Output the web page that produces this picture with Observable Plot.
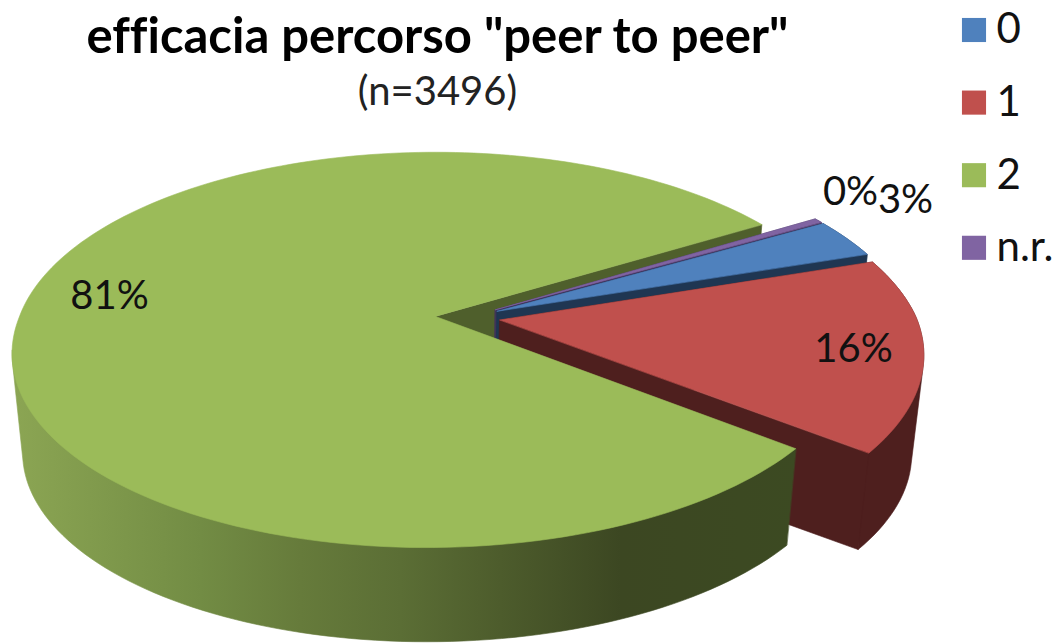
<!DOCTYPE html>
<html>
<head>
<meta charset="utf-8">
<script src="https://cdn.jsdelivr.net/npm/d3@7"></script>
<script src="https://cdn.jsdelivr.net/npm/@observablehq/plot@0.6"></script>
<style>html,body{margin:0;padding:0;background:#fff}svg{display:block}svg text{font-variant-ligatures:none}</style>
</head>
<body>
<div id="chart"></div>
<script>
// Data
const categories = ["0", "1", "2", "n.r."];
const shares = [3.2, 15.7, 80.7, 0.4]; // percent of n=3496
const chartTitle = 'efficacia percorso "peer to peer"';
const chartSubtitle = "(n=3496)";

// Styles and layout (kept apart from the data)
const topColors = ["#4f81bd", "#c0504d", "#9bbb59", "#8064a2"];
const wallColors = ["#1f3652", "#4e1f1e", "#4f5f2c", "#40325a"];
const labelAnchors = [[905, 200], [853, 349], [109, 296], [850, 192]];
const W = 1058, H = 643;
const FONT = "Lato, 'Open Sans', sans-serif";

// 3-D pie camera model
const apex = [435, 316], R = 416, RT = 192, k = 0.169, lean = 0.04;
const wallDrop = 100, wallScale = 0.975, explode = 0.078;
const startDeg = -29.96;

const rad = d => d * Math.PI / 180;
let acc = startDeg;
const slices = shares.map((s, i) => {
  const a0 = acc, a1 = acc + s / 100 * 360;
  acc = a1;
  return {i, a0, a1, mid: (a0 + a1) / 2};
});
// The plane's origin sits on the tip of the biggest slice; every slice is
// pushed out along its own bisector from the true pie centre.
const big = slices[d3.maxIndex(shares)];
const centre = [-explode * Math.cos(rad(big.mid)), -explode * Math.sin(rad(big.mid))];
slices.forEach(s => {
  s.o = [centre[0] + explode * Math.cos(rad(s.mid)), centre[1] + explode * Math.sin(rad(s.mid))];
});

function project(u, v, floor) {
  const d = 1 - k * v;
  const Y = RT * v / d;
  const X = R * u / d - lean * Math.max(0, Y);
  return floor
    ? {x: apex[0] + wallScale * X, y: apex[1] + wallDrop + wallScale * Y}
    : {x: apex[0] + X, y: apex[1] + Y};
}
const rimPoint = (s, deg, floor) =>
  project(s.o[0] + Math.cos(rad(deg)), s.o[1] + Math.sin(rad(deg)), floor);
const tip = (s, floor) => project(s.o[0], s.o[1], floor);
function rim(s, floor, a0 = s.a0, a1 = s.a1) {
  const n = Math.max(4, Math.ceil((a1 - a0) / 1.5));
  return d3.range(n + 1).map(j => rimPoint(s, a0 + (a1 - a0) * j / n, floor));
}
const poly = (pts, fill) =>
  Plot.line(pts, {x: "x", y: "y", fill, stroke: fill, strokeWidth: 0.6, curve: "linear-closed"});

const topFace = s => poly([tip(s, false), ...rim(s, false)], topColors[s.i]);
// A rim wall is the convex outline of its upper and lower arcs, so the sides
// of the drum run straight between the two ellipses.
const rimWall = (s, fill, a0, a1) => {
  const pts = [...rim(s, false, a0, a1), ...rim(s, true, a0, a1)].map(p => [p.x, p.y]);
  return poly(d3.polygonHull(pts).map(([x, y]) => ({x, y})), fill);
};
const cutWall = (s, deg) => poly(
  [tip(s, false), rimPoint(s, deg, false), rimPoint(s, deg, true), tip(s, true)],
  wallColors[s.i]
);
const smallSlice = s => [
  rimWall(s, wallColors[s.i]),
  cutWall(s, s.a0),
  cutWall(s, s.a1),
  topFace(s)
];

// The big slice's rim wall is only seen from its cut round to the left
// silhouette of the disc.
const silhouetteDeg = 180 - Math.asin(k) * 180 / Math.PI;

// Painter's order: back wall of the big slice, then the thin slices from
// back to front, then the big slice's front.
const order = [3, 0, 1];
const marks = [
  cutWall(slices[2], slices[2].a1),
  ...order.flatMap(i => smallSlice(slices[i])),
  rimWall(slices[2], "url(#greenWall)", slices[2].a0, silhouetteDeg),
  topFace(slices[2]),
  Plot.text(slices, {
    x: s => labelAnchors[s.i][0],
    y: s => labelAnchors[s.i][1],
    text: s => Math.round(shares[s.i]) + "%",
    fontFamily: FONT, fontSize: 40, fill: "#111"
  }),
  Plot.text([chartTitle], {
    x: () => 437, y: () => 37, text: d => d,
    fontFamily: FONT, fontWeight: 700, fontSize: 49, fill: "#000"
  }),
  Plot.text([chartSubtitle], {
    x: () => 437, y: () => 92, text: d => d,
    fontFamily: FONT, fontSize: 40, fill: "#222"
  }),
  Plot.dot(categories, {
    x: () => 973.5, y: (d, i) => 29.5 + 72.6 * i,
    symbol: "square", r: 13.6,
    fill: (d, i) => topColors[i], stroke: "none"
  }),
  Plot.text(categories, {
    x: () => 996, y: (d, i) => 29.5 + 72.6 * i, text: d => d,
    textAnchor: "start", fontFamily: FONT, fontSize: 42, fill: "#111"
  })
];

const plot = Plot.plot({
  width: W, height: H,
  margin: 0,
  x: {domain: [0, W], range: [0, W], axis: null},
  y: {domain: [0, H], range: [0, H], axis: null},
  style: {background: "#fff"},
  marks
});

const defs = d3.create("svg:defs");
const grad = defs.append("linearGradient")
  .attr("id", "greenWall")
  .attr("gradientUnits", "userSpaceOnUse")
  .attr("x1", 0).attr("x2", W).attr("y1", 0).attr("y2", 0);
[[15, "#8ba553"], [200, "#728c44"], [300, "#667b3b"], [400, "#5b6e35"], [500, "#4d5c2c"], [620, "#3c4722"], [800, "#3c4a22"]]
  .forEach(([x, c]) => grad.append("stop").attr("offset", x / W).attr("stop-color", c));
plot.insertBefore(defs.node(), plot.firstChild);
document.getElementById("chart").append(plot);
</script>
</body>
</html>
